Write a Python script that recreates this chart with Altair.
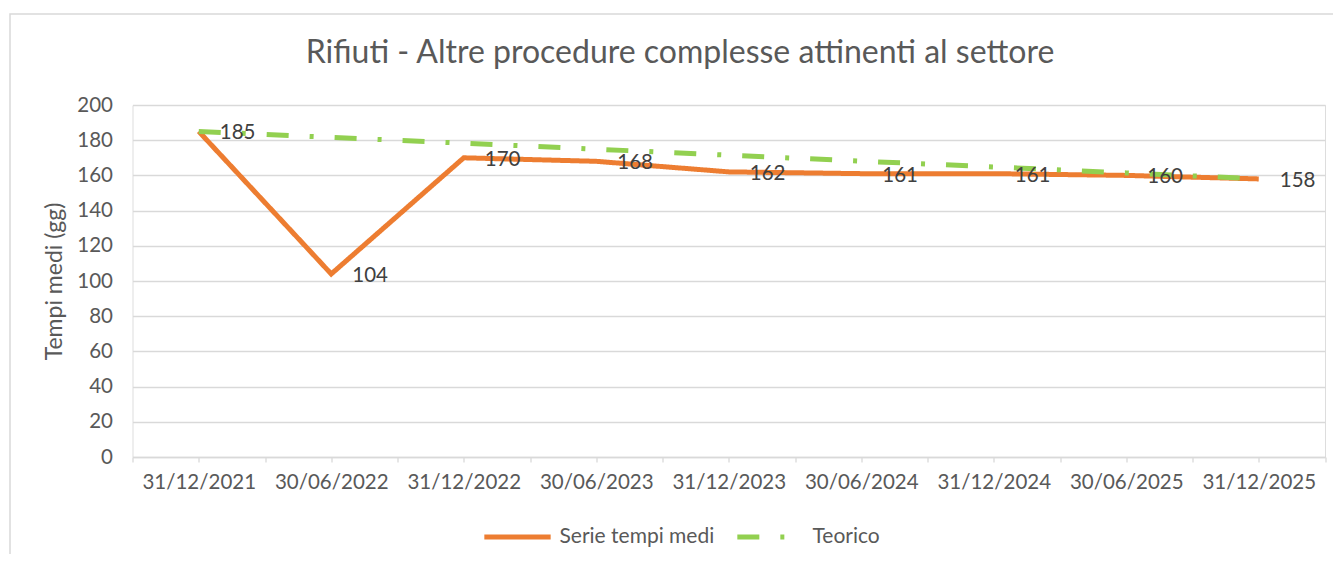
import altair as alt
import pandas as pd

dates = ["31/12/2021", "30/06/2022", "31/12/2022", "30/06/2023", "31/12/2023",
         "30/06/2024", "31/12/2024", "30/06/2025", "31/12/2025"]
serie = [185, 104, 170, 168, 162, 161, 161, 160, 158]
teorico = [185, 181.6, 178.3, 174.9, 171.5, 168.1, 164.8, 161.4, 158]
series_names = ["Serie tempi medi", "Teorico"]
colors = ["#ED7D31", "#92D050"]
title_text = "Rifiuti - Altre procedure complesse attinenti al settore"

rows = []
for i, d in enumerate(dates):
    rows.append({"idx": i, "date": d, "value": serie[i], "series": series_names[0]})
for i, d in enumerate(dates):
    rows.append({"idx": i, "date": d, "value": teorico[i], "series": series_names[1]})
df = pd.DataFrame(rows)
df_labels = pd.DataFrame({"idx": list(range(len(dates))), "value": serie})

FONT = "Lato"
FS = 20.5
W, H = 1192.5, 352

label_arr = "[" + ",".join("'" + d + "'" for d in dates) + "]"
xvals = [i / 2 for i in range(-1, 2 * len(dates))]

x_enc = alt.X("idx:Q", scale=alt.Scale(domain=[-0.5, len(dates) - 0.5], nice=False, zero=False),
              axis=alt.Axis(values=xvals, title=None, grid=False,
                            labelExpr=f"datum.value % 1 == 0 ? {label_arr}[datum.value] : ''",
                            domainColor="#D9D9D9", tickColor="#D9D9D9", tickSize=5,
                            domainWidth=1.3, tickWidth=1.3,
                            labelFontSize=FS, labelColor="#595959", labelFont=FONT,
                            labelPadding=10, labelFlush=False, labelOverlap=False))
y_enc = alt.Y("value:Q", scale=alt.Scale(domain=[0, 200], nice=False),
              axis=alt.Axis(values=list(range(0, 201, 20)), title="Tempi medi (gg)",
                            titleFontSize=23, titleFont=FONT, titleColor="#595959",
                            titleFontWeight="normal", titlePadding=10,
                            domain=False, ticks=False, gridColor="#D9D9D9", gridWidth=1.3,
                            labelFontSize=FS, labelColor="#595959", labelFont=FONT,
                            labelPadding=20, labelOverlap=False))

leg = alt.Legend(title=None, orient="none", direction="horizontal",
                 legendX=349, legendY=396,
                 symbolType="stroke", symbolSize=4400, symbolStrokeWidth=5,
                 labelFontSize=21, labelFont=FONT, labelColor="#595959",
                 labelOffset=6, columnPadding=12)

lines = alt.Chart(df).mark_line(strokeWidth=5).encode(
    x=x_enc, y=y_enc,
    color=alt.Color("series:N", scale=alt.Scale(domain=series_names, range=colors),
                    sort=series_names, legend=leg),
    strokeDash=alt.StrokeDash("series:N", scale=alt.Scale(domain=series_names,
                                                          range=[[1, 0], [22, 21, 4, 21]]),
                              sort=series_names, legend=leg),
    order=alt.Order("series:N"),
    detail="series:N",
)

labels = alt.Chart(df_labels).mark_text(align="left", baseline="middle", dx=21, dy=2,
                                        fontSize=FS, font=FONT, color="#404040").encode(
    x=x_enc, y=y_enc, text=alt.Text("value:Q"))

border = alt.Chart(pd.DataFrame({"a": [0]})).mark_rect(fill="transparent", stroke="#D9D9D9",
                                                       strokeWidth=1.5).encode(
    x=alt.value(-122.5), x2=alt.value(W + 60), y=alt.value(-91), y2=alt.value(H + 150))

title = alt.Chart(pd.DataFrame({"t": [title_text]})).mark_text(
    align="center", baseline="alphabetic", fontSize=32, font=FONT, color="#595959").encode(
    x=alt.value(680 - 132.5), y=alt.value(63 - 105), text="t:N")

chart = alt.layer(border, title, lines, labels).properties(
    width=W, height=H,
    autosize=alt.AutoSizeParams(type="none"),
    padding={"left": 124.5, "top": 97, "right": 8, "bottom": 97},
).configure_view(stroke=None).configure(background="white")

chart.save("out.html", embed_options={"renderer": "svg", "actions": False})
